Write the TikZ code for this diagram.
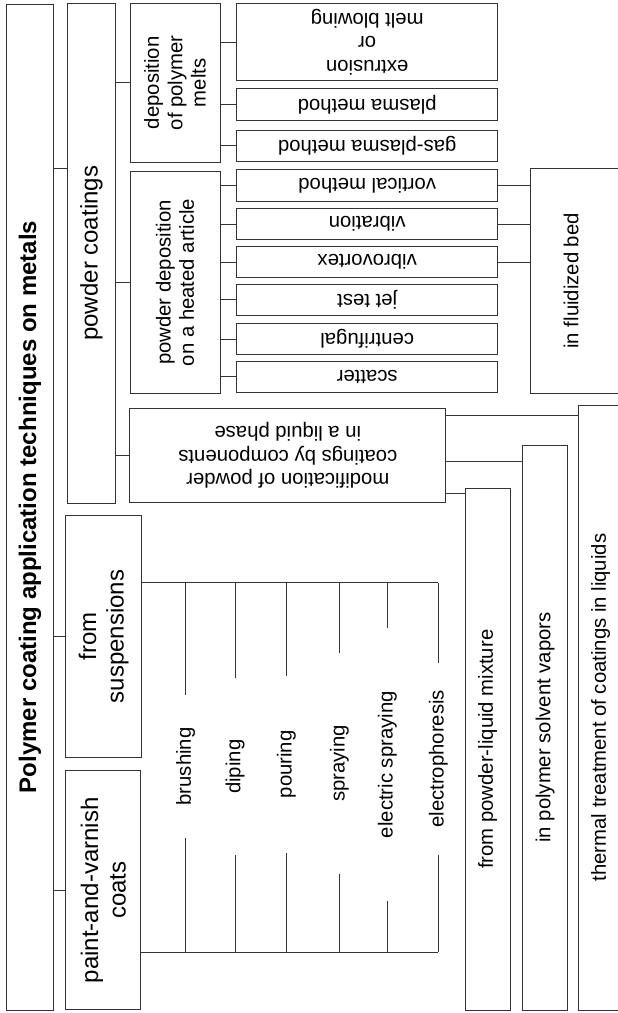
\documentclass[tikz,border=0pt]{standalone}
\usepackage{fontspec}
\setmainfont{Liberation Sans}
\newcommand{\groupsize}{\fontsize{24}{27.6}\selectfont}
\newcommand{\itemsize}{\fontsize{20.3}{23.3}\selectfont}
\tikzstyle{group}=[rectangle, draw=black!80, line width=1pt, inner sep=0pt, align=center, font=\groupsize]
\tikzstyle{method}=[rectangle, draw=black!80, line width=1pt, inner sep=0pt, align=center, font=\itemsize]
\tikzstyle{leaf}=[method, rotate=180, minimum width=260.5pt, minimum height=31.5pt]
\tikzstyle{tech}=[inner sep=0pt, rotate=90, font=\itemsize]
\tikzstyle{link}=[draw=black!80, line width=1pt]

\begin{document}
\begin{tikzpicture}[x=1pt,y=-1pt]
  \useasboundingbox (0,0) rectangle (618,1013);

  \node[group, rotate=90, minimum width=1006pt, minimum height=46.6pt, font=\groupsize\bfseries] (title) at (30,507) {Polymer coating application techniques on metals};
  \node[group, rotate=90, minimum width=500pt, minimum height=48.4pt] (pc) at (91.5,253.3) {powder coatings};
  \node[group, rotate=90, minimum width=241.6pt, minimum height=76pt] (sus) at (103.7,636.5) {from\\suspensions};
  \node[group, rotate=90, minimum width=239.3pt, minimum height=75.3pt] (pv) at (103.3,890.3) {paint-and-varnish\\coats};

  \node[method, rotate=90, minimum width=159pt, minimum height=90pt] (dpm) at (175,82.8) {deposition\\of polymer\\melts};
  \node[method, rotate=90, minimum width=221.6pt, minimum height=90pt] (pdh) at (175,282.5) {powder deposition\\on a heated article};
  \node[method, rotate=180, minimum width=315.7pt, minimum height=94.4pt] (mod) at (287.8,455.5) {modification of powder\\coatings by components\\in a liquid phase};

  \node[leaf, minimum height=77.7pt] (em) at (367.2,42.1) {extrusion\\or\\melt blowing};
  \node[leaf] (plm) at (367.2,104.5) {plasma method};
  \node[leaf] (gpm) at (367.2,145.8) {gas-plasma method};
  \node[leaf] (vm) at (367.2,185.5) {vortical method};
  \node[leaf] (vib) at (367.2,224.2) {vibration};
  \node[leaf] (vvx) at (367.2,262.2) {vibrovortex};
  \node[leaf] (jet) at (367.2,299.8) {jet test};
  \node[leaf] (cen) at (367.2,339.2) {centrifugal};
  \node[leaf] (sca) at (367.2,376.8) {scatter};

  \node[method, rotate=90, minimum width=225pt, minimum height=94pt, text depth=12pt] (fb) at (577,280.8) {in fluidized bed};

  \node[method, rotate=90, minimum width=521.7pt, minimum height=44.7pt] (mix) at (487.7,749.2) {from powder-liquid mixture};
  \node[method, rotate=90, minimum width=565pt, minimum height=44.6pt] (vap) at (545,727.5) {in polymer solvent vapors};
  \node[method, rotate=90, minimum width=605pt, minimum height=44.7pt] (thm) at (600.7,707.5) {thermal treatment of coatings in liquids};

  \node[tech, minimum width=143pt] (t1) at (185.7,766.5) {brushing};
  \node[tech, minimum width=176.7pt] (t2) at (235,766.7) {diping};
  \node[tech, minimum width=176.7pt] (t3) at (286.3,764.3) {pouring};
  \node[tech, minimum width=220pt] (t4) at (339.3,763.3) {spraying};
  \node[tech, minimum width=272.7pt] (t5) at (387.3,764.7) {electric spraying};
  \node[tech, minimum width=191pt] (t6) at (438.3,758.8) {electrophoresis};
  \coordinate (top) at (438.3,582.7);
  \coordinate (bot) at (438.3,952.3);

  \draw[link] (title.south |- 0,168.3) -- (pc.north |- 0,168.3);
  \draw[link] (sus.north) -- (sus.north -| title.south);
  \draw[link] (pv.north) -- (pv.north -| title.south);

  \draw[link] (dpm.north) -- (dpm.north -| pc.south);
  \draw[link] (pdh.north) -- (pdh.north -| pc.south);
  \draw[link] (mod.east) -- (mod.east -| pc.south);

  \foreach \n in {em,plm,gpm}
    \draw[link] (\n.east) -- (\n.east -| dpm.south);
  \foreach \n in {vm,vib,vvx,jet,cen,sca}
    \draw[link] (\n.east) -- (\n.east -| pdh.south);
  \foreach \n in {vm,vib,vvx}
    \draw[link] (\n.west) -- (\n.west -| fb.north);

  \draw[link] (mod.west |- 0,415) -- (thm.north |- 0,415);
  \draw[link] (mod.west |- 0,461) -- (vap.north |- 0,461);
  \draw[link] (mod.west |- 0,493.3) -- (mix.north |- 0,493.3);

  \draw[link] (sus.south |- top) -- (top);
  \draw[link] (pv.south |- bot) -- (bot);
  \foreach \n in {t1,t2,t3,t4,t5,t6} {
    \draw[link] (\n.east) -- (\n.east |- top);
    \draw[link] (\n.west) -- (\n.west |- bot);
  }
\end{tikzpicture}
\end{document}
